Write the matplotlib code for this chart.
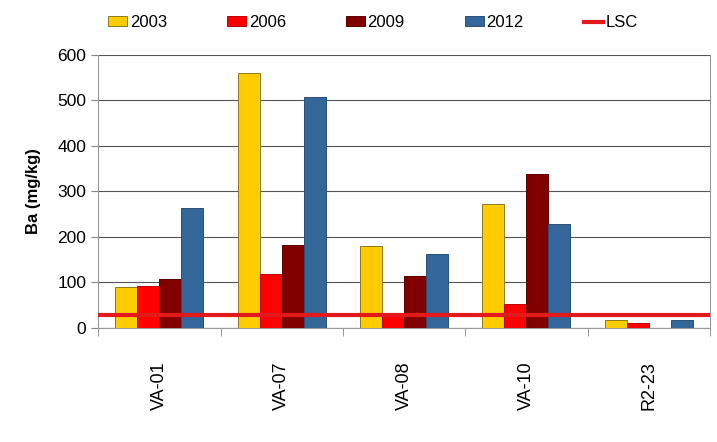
import numpy as np
import matplotlib.pyplot as plt
from matplotlib.lines import Line2D
from matplotlib.patches import Patch

plt.rcParams['font.family'] = ['Liberation Sans', 'DejaVu Sans']

pontos = ['VA-01', 'VA-07', 'VA-08', 'VA-10', 'R2-23']
anos = ['2003', '2006', '2009', '2012']
v2003 = [89, 560, 180, 272, 17]
v2006 = [93, 119, 33, 53, 12]
v2009 = [108, 182, 115, 339, 0]
v2012 = [264, 507, 162, 229, 18]
lsc = 29

cores = ['#FFCC00', '#FF0000', '#800000', '#336699']
bordas = ['#8C7A1A', '#C00000', '#600000', '#2A4F75']
series = [v2003, v2006, v2009, v2012]

fig = plt.figure(figsize=(7.17, 4.42), dpi=100)
ax = fig.add_axes([0.137, 0.258, 0.853, 0.618])

x = np.arange(len(pontos))
w = 0.18
for i, (vals, c, b) in enumerate(zip(series, cores, bordas)):
    ax.bar(x + (i - 1.5) * w, vals, w, color=c, edgecolor=b, linewidth=0.7, zorder=3)

ax.axhline(lsc, color='#E31A1C', linewidth=3, zorder=4)

ax.set_xlim(-0.5, len(pontos) - 0.5)
ax.set_ylim(0, 600)
ax.set_yticks(range(0, 601, 100))
ax.yaxis.grid(True, color='#555555', linewidth=0.8, zorder=0)
ax.set_xticks(x)
ax.set_xticklabels(pontos, rotation=90, fontsize=13)
ax.tick_params(axis='x', length=0, pad=24)
ax.set_xticks(np.arange(-0.5, len(pontos)), minor=True)
ax.tick_params(axis='x', which='minor', length=6, color='#888888')
ax.tick_params(axis='y', labelsize=12.5, length=5, color='#888888')
ax.set_ylabel('Ba (mg/kg)', fontsize=12, fontweight='bold', labelpad=12)

ax.spines['top'].set_visible(False)
for s in ['left', 'bottom', 'right']:
    ax.spines[s].set_color('#999999')

handles = [Patch(facecolor=c, edgecolor=b, linewidth=0.7) for c, b in zip(cores, bordas)]
handles.append(Line2D([0], [0], color='#E31A1C', linewidth=3))
fig.legend(handles, anos + ['LSC'], loc='upper left', bbox_to_anchor=(0.13, 1.0),
           ncol=5, frameon=False, fontsize=12, handlelength=1.15, handleheight=0.55,
           handletextpad=0.15, columnspacing=3.6)

fig.savefig('out.png', dpi=100)
